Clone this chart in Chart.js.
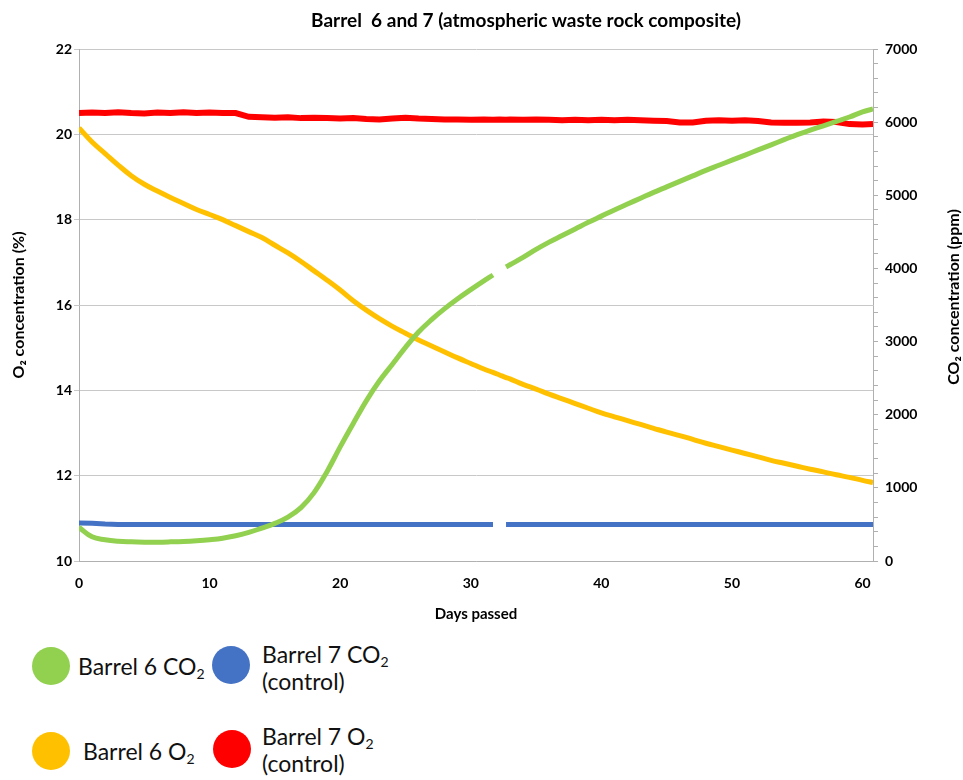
<!DOCTYPE html>
<html>
<head>
<meta charset="utf-8">
<script src="https://cdn.jsdelivr.net/npm/chart.js@4.4.1/dist/chart.umd.min.js"></script>
<style>
    body { margin: 0; background: #fff; font-family: Lato, sans-serif; }
    #wrap { position: relative; width: 963px; height: 780px; overflow: hidden; }
    #chartCanvas { position: absolute; left: 0; top: 0; }
    #title { position: absolute; top: 9px; left: 526px; transform: translateX(-50%); white-space: pre; font-weight: bold; font-size: 19px; line-height: 22px; color: #000; }
    .dot { position: absolute; width: 38px; height: 38px; border-radius: 50%; }
    .lbl { position: absolute; font-size: 23px; line-height: 27px; color: #111; white-space: nowrap; }
    .lbl sub { font-size: 14px; vertical-align: -4px; line-height: 0; }
</style>
</head>
<body>
<div id="wrap">
    <canvas id="chartCanvas" width="963" height="630"></canvas>
    <div id="title">Barrel  6 and 7 (atmospheric waste rock composite)</div>

    <div class="dot" style="left:32px;top:647px;background:#92d050"></div>
    <div class="lbl" style="left:78px;top:653px">Barrel 6 CO<sub>2</sub></div>
    <div class="dot" style="left:212px;top:646px;background:#4472c4"></div>
    <div class="lbl" style="left:262px;top:641px">Barrel 7 CO<sub>2</sub><br>(control)</div>

    <div class="dot" style="left:32px;top:732px;background:#ffc000"></div>
    <div class="lbl" style="left:83px;top:738px">Barrel 6 O<sub>2</sub></div>
    <div class="dot" style="left:213px;top:730px;background:#ff0000"></div>
    <div class="lbl" style="left:262px;top:723px">Barrel 7 O<sub>2</sub><br>(control)</div>
</div>
<script>
// 経過日数（32.2日目は欠測）
const days = [0, 1, 2, 3, 4, 5, 6, 7, 8, 9, 10, 11, 12, 13, 14, 15, 16, 17, 18, 19,
    20, 21, 22, 23, 24, 25, 26, 27, 28, 29, 30, 31, 31.7, 32.2, 32.7,
    33, 34, 35, 36, 37, 38, 39, 40, 41, 42, 43, 44, 45, 46, 47, 48, 49, 50,
    51, 52, 53, 54, 55, 56, 57, 58, 59, 60, 60.8];

// Barrel 6 CO2 (ppm)
const barrel6CO2 = [460, 330, 290, 270, 262, 258, 258, 262, 268, 278,
    292, 312, 345, 390, 450, 515, 600, 730, 935, 1225,
    1560, 1880, 2190, 2460, 2690, 2920, 3130, 3300, 3450, 3585,
    3710, 3830, 3910, null, 4020,
    4050, 4150, 4260, 4360, 4450, 4540, 4630, 4715, 4800, 4880,
    4960, 5040, 5115, 5190, 5265, 5340, 5410, 5480, 5550, 5620,
    5690, 5760, 5830, 5890, 5950, 6010, 6070, 6140, 6180];

// Barrel 7 CO2 (ppm, control)
const barrel7CO2 = [520, 515, 505, 500, 500, 500, 500, 500, 500, 500,
    500, 500, 500, 500, 500, 500, 500, 500, 500, 500,
    500, 500, 500, 500, 500, 500, 500, 500, 500, 500,
    500, 500, 500, null, 500,
    500, 500, 500, 500, 500, 500, 500, 500, 500, 500,
    500, 500, 500, 500, 500, 500, 500, 500, 500, 500,
    500, 500, 500, 500, 500, 500, 500, 500, 500];

// Barrel 6 O2 (%)
const barrel6O2 = [20.15, 19.82, 19.55, 19.28, 19.03, 18.83, 18.67, 18.52, 18.38, 18.24,
    18.12, 18.00, 17.86, 17.72, 17.58, 17.40, 17.22, 17.02, 16.80, 16.58,
    16.35, 16.10, 15.88, 15.68, 15.50, 15.34, 15.18, 15.04, 14.90, 14.76,
    14.63, 14.50, 14.42, 14.36, 14.30,
    14.27, 14.14, 14.03, 13.91, 13.80, 13.69, 13.58, 13.47, 13.38, 13.29,
    13.20, 13.11, 13.02, 12.94, 12.85, 12.76, 12.68, 12.60, 12.52, 12.44,
    12.36, 12.29, 12.22, 12.15, 12.09, 12.02, 11.96, 11.89, 11.84];

// Barrel 7 O2 (%, control)
const barrel7O2 = [20.50, 20.51, 20.50, 20.52, 20.50, 20.49, 20.51, 20.50, 20.52, 20.50,
    20.51, 20.50, 20.50, 20.41, 20.40, 20.39, 20.40, 20.38, 20.39, 20.38,
    20.37, 20.38, 20.36, 20.35, 20.37, 20.39, 20.37, 20.36, 20.35, 20.35,
    20.34, 20.35, 20.34, 20.35, 20.34,
    20.35, 20.34, 20.35, 20.34, 20.33, 20.34, 20.33, 20.34, 20.33, 20.34,
    20.33, 20.32, 20.31, 20.28, 20.28, 20.32, 20.33, 20.32, 20.33, 20.31,
    20.28, 20.27, 20.27, 20.28, 20.30, 20.29, 20.24, 20.23, 20.24];

// 軸の目盛
const dayTickValues = [0, 10, 20, 30, 40, 50, 60];
const o2Ticks = { min: 10, max: 22, step: 2 };
const co2Ticks = { min: 0, max: 7000, step: 200, labelStep: 1000 };
const dayRange = { min: 0, max: 60.8 };

const toPoints = values => days.map((d, i) => ({ x: d, y: values[i] }));

const tickFont = { family: 'Lato, sans-serif', size: 14, weight: 'bold' };
const axisGray = '#b0b0b0';

// 右軸タイトル（下から上へ読む向き）
const rightTitlePlugin = {
    id: 'rightTitle',
    afterDraw(chart) {
        const { ctx, chartArea } = chart;
        ctx.save();
        ctx.translate(chart.width - 9, (chartArea.top + chartArea.bottom) / 2 - 8);
        ctx.rotate(-Math.PI / 2);
        ctx.font = 'bold 16px Lato, sans-serif';
        ctx.fillStyle = '#000';
        ctx.textAlign = 'center';
        ctx.textBaseline = 'middle';
        ctx.fillText('CO₂ concentration (ppm)', 0, 0);
        ctx.restore();
    }
};

const ctx = document.getElementById('chartCanvas').getContext('2d');
new Chart(ctx, {
    type: 'line',
    data: {
        datasets: [{
            label: 'Barrel 6 CO2',
            data: toPoints(barrel6CO2),
            yAxisID: 'y2',
            borderColor: '#92d050',
            borderWidth: 5,
            tension: 0.4
        }, {
            label: 'Barrel 7 CO2 (control)',
            data: toPoints(barrel7CO2),
            yAxisID: 'y2',
            borderColor: '#4472c4',
            borderWidth: 5
        }, {
            label: 'Barrel 6 O2',
            data: toPoints(barrel6O2),
            yAxisID: 'y',
            borderColor: '#ffc000',
            borderWidth: 5,
            tension: 0.4
        }, {
            label: 'Barrel 7 O2 (control)',
            data: toPoints(barrel7O2),
            yAxisID: 'y',
            borderColor: '#ff0000',
            borderWidth: 6
        }]
    },
    options: {
        responsive: false,
        animation: false,
        spanGaps: false,
        layout: { padding: { top: 49, left: 0, right: 0, bottom: 0 } },
        elements: { point: { radius: 0 } },
        plugins: {
            legend: { display: false },
            tooltip: { enabled: false }
        },
        scales: {
            x: {
                type: 'linear',
                min: dayRange.min,
                max: dayRange.max,
                ticks: { font: tickFont, color: '#000', padding: 14 },
                afterBuildTicks: scale => {
                    scale.ticks = dayTickValues.map(v => ({ value: v }));
                },
                grid: { display: false, drawTicks: false },
                border: { color: axisGray, width: 1 },
                title: { display: true, text: 'Days passed', font: { ...tickFont, size: 15 }, color: '#000', padding: 7 },
                afterFit: scale => { scale.height = 69; }
            },
            y: {
                position: 'left',
                min: o2Ticks.min,
                max: o2Ticks.max,
                ticks: { stepSize: o2Ticks.step, font: tickFont, color: '#000', padding: 2 },
                grid: { color: '#c8c8c8', tickLength: 5 },
                border: { color: axisGray, width: 1 },
                title: { display: true, text: 'O₂ concentration (%)', font: { ...tickFont, size: 16 }, color: '#000', padding: 9 },
                afterFit: scale => { scale.width = 79; }
            },
            y2: {
                position: 'right',
                min: co2Ticks.min,
                max: co2Ticks.max,
                ticks: {
                    stepSize: co2Ticks.step,
                    autoSkip: false,
                    font: tickFont,
                    color: '#000',
                    padding: 7,
                    callback: value => value % co2Ticks.labelStep === 0 ? value : ''
                },
                grid: { drawOnChartArea: false, color: axisGray, tickLength: 5 },
                border: { color: axisGray, width: 1 },
                afterFit: scale => { scale.width = 90; }
            }
        }
    },
    plugins: [rightTitlePlugin]
});
</script>
</body>
</html>
